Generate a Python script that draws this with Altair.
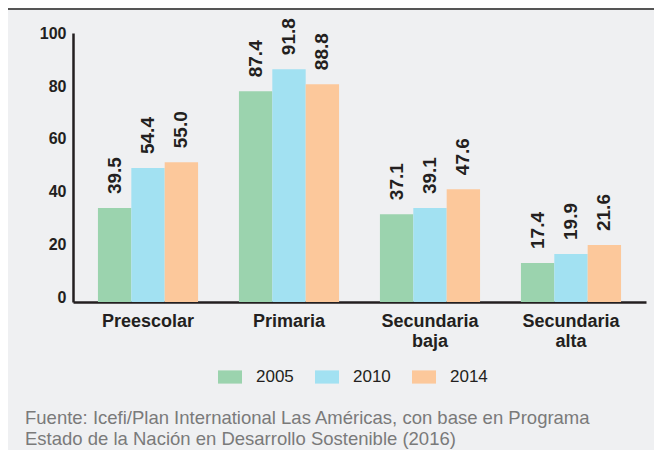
import altair as alt
import pandas as pd

categories = ["Preescolar", "Primaria", "Secundaria baja", "Secundaria alta"]
years = ["2005", "2010", "2014"]
bar_2005 = [35.6, 79.9, 33.3, 14.8]
bar_2010 = [50.8, 88.3, 35.6, 18.2]
bar_2014 = [53.0, 82.6, 42.8, 21.6]
label_2005 = ["39.5", "87.4", "37.1", "17.4"]
label_2010 = ["54.4", "91.8", "39.1", "19.9"]
label_2014 = ["55.0", "88.8", "47.6", "21.6"]
y_ticks = [0, 20, 40, 60, 80, 100]
colors = ["#9bd3ae", "#a2e1f2", "#fcc89b"]
source_lines = [
    "Fuente: Icefi/Plan International Las Américas, con base en Programa",
    "Estado de la Nación en Desarrollo Sostenible (2016)",
]

rows = []
for yr, vals, labs in zip(years, [bar_2005, bar_2010, bar_2014], [label_2005, label_2010, label_2014]):
    for c, v, l in zip(categories, vals, labs):
        rows.append({"cat": c, "year": yr, "value": v, "label": l})
df = pd.DataFrame(rows)

FONT = "Liberation Sans"
DARK = "#231f20"

x = alt.X(
    "cat:N",
    sort=categories,
    scale=alt.Scale(paddingInner=0.29, paddingOuter=0.177),
    axis=alt.Axis(
        title=None, labelAngle=0, labelFont=FONT, labelFontSize=18, labelFontWeight="bold",
        labelColor=DARK, labelPadding=10, labelBaseline="top", labelLineHeight=20,
        labelExpr="split(datum.label, ' ')", ticks=False, tickSize=0,
        domainColor=DARK, domainWidth=2.5, grid=False,
    ),
)
xo = alt.XOffset("year:N", sort=years, scale=alt.Scale(paddingInner=0, paddingOuter=0))
y = alt.Y(
    "value:Q",
    scale=alt.Scale(domain=[0, 102], nice=False),
    axis=alt.Axis(
        title=None, values=y_ticks, ticks=False, tickSize=0, labelPadding=7,
        labelFont=FONT, labelFontSize=16, labelFontWeight="bold", labelColor=DARK,
        domainColor=DARK, domainWidth=2.5, grid=False, labelBaseline="alphabetic",
    ),
)

bars = alt.Chart(df).mark_bar().encode(
    x=x,
    xOffset=xo,
    y=y,
    color=alt.Color(
        "year:N",
        scale=alt.Scale(domain=years, range=colors),
        legend=alt.Legend(
            title=None, orient="none", legendX=145, legendY=332, direction="horizontal",
            symbolType="M-1,-0.55H1V0.55H-1Z", symbolSize=576, symbolStrokeWidth=0,
            labelFont=FONT, labelFontSize=17, labelColor=DARK, labelOffset=14,
            columnPadding=21, symbolOpacity=1,
        ),
    ),
)

text = alt.Chart(df).mark_text(
    angle=270, align="left", baseline="middle", dx=14,
    font=FONT, fontSize=19, fontWeight="bold", color=DARK,
).encode(x=x, xOffset=xo, y=y, text="label:N")

one = pd.DataFrame({"t": [0]})
foot = alt.Chart(one).mark_text(
    text=source_lines, align="left", baseline="top", lineHeight=21,
    font=FONT, fontSize=18.5, color="#7a7a7a",
).encode(x=alt.value(-48), y=alt.value(376))

border = alt.Chart(one).mark_rule(color="#555555", strokeWidth=2).encode(
    x=alt.value(-65), x2=alt.value(581), y=alt.value(-24)
)

chart = alt.layer(bars, text, foot, border).properties(
    width=573, height=269,
    padding={"left": 65, "top": 25, "right": 8, "bottom": 148},
    autosize=alt.AutoSizeParams(type="none"),
    background="#eff0f2",
).configure_view(strokeWidth=0)

chart.save("out.html", embed_options={"renderer": "svg", "actions": False})
